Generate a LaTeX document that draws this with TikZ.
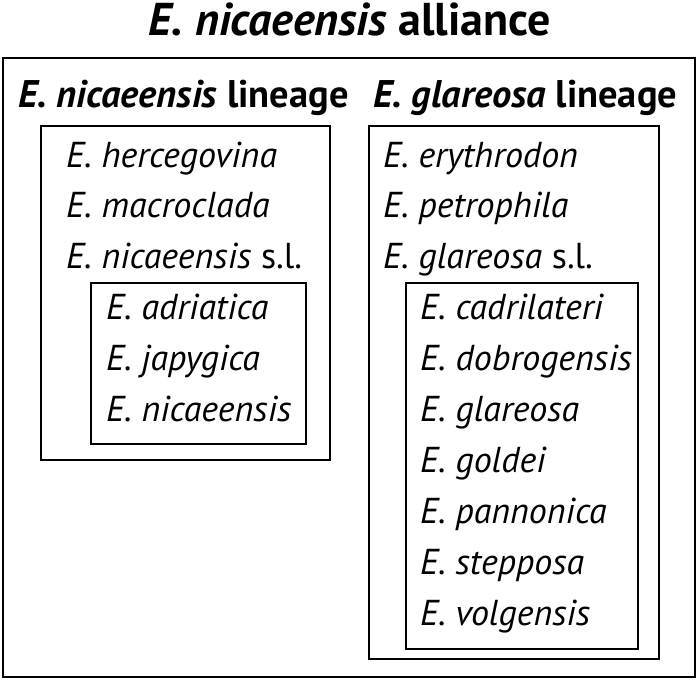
\documentclass[tikz,border=0pt]{standalone}
\usepackage{fontspec}
\setmainfont{PT Sans}
\usetikzlibrary{positioning}

\begin{document}
\begin{tikzpicture}[x=1pt, y=-1pt,
                    every node/.style={inner sep=0pt, outer sep=0pt},
                    taxon/.style={anchor=base west, font=\fontsize{36}{40}\selectfont\itshape},
                    lineage/.style={anchor=base west, font=\fontsize{38.5}{40}\selectfont\bfseries},
                    heading/.style={anchor=base, font=\fontsize{46}{50}\selectfont\bfseries},
                    frame/.style={draw, line width=2.2pt}
                ]
                \useasboundingbox (0,0) rectangle (700,682);
                \node[heading] (title) at (350,36) {\textit{E. nicaeensis} alliance};
                \draw[frame] (3,58) rectangle (695,677);

                % nicaeensis lineage
                \node[lineage] (nichead) at (18,107) {\textit{E. nicaeensis} lineage};
                \draw[frame] (41,126) rectangle (330,460);
                \draw[frame] (91,283) rectangle (306,444);
                \foreach \sp [count=\i from 0] in {hercegovina, macroclada, {nicaeensis \upshape s.l.}}
                    \node[taxon] (nic\i) at (66,167+50.9*\i) {E. \sp};
                \foreach \sp [count=\i from 3] in {adriatica, japygica, nicaeensis}
                    \node[taxon] (nic\i) at (106,167+50.9*\i) {E. \sp};

                % glareosa lineage
                \node[lineage] (glahead) at (373,107) {\textit{E. glareosa} lineage};
                \draw[frame] (369,126) rectangle (659,659);
                \draw[frame] (406,283) rectangle (638,649);
                \foreach \sp [count=\i from 0] in {erythrodon, petrophila, {glareosa \upshape s.l.}}
                    \node[taxon] (gla\i) at (383,167+50.9*\i) {E. \sp};
                \foreach \sp [count=\i from 3] in {cadrilateri, dobrogensis, glareosa, goldei, pannonica, stepposa, volgensis}
                    \node[taxon] (gla\i) at (420,167+50.9*\i) {E. \sp};
            \end{tikzpicture}
\end{document}
